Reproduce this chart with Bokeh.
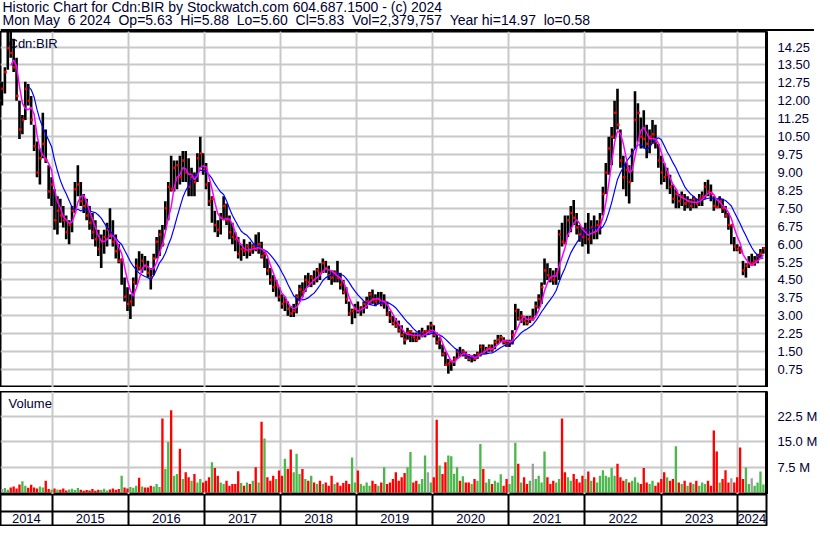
import pandas as pd
from bokeh.plotting import figure
from bokeh.layouts import column
from bokeh.models import (Range1d, FixedTicker, PrintfTickFormatter, Grid, Span,
                          Label, ColumnDataSource)
from bokeh.embed import file_html
from bokeh.resources import INLINE
from bokeh.core.properties import value

# ---------------- data (bi-weekly bars) ----------------
start_date = "2014-05-05"
period_days = 14
view_start = "2014-04-28"
view_end = "2024-05-21"

high = [
    12.8, 13.4, 14.9, 14.97, 14.6, 13.8, 12.0, 11.4, 12.8, 12.7,
    12.2, 11.0, 10.3, 10.0, 11.5, 10.8, 9.3, 8.8, 8.3, 8.0,
    7.9, 7.6, 7.2, 7.0, 7.6, 8.6, 9.3, 8.6, 8.1, 7.9,
    7.6, 7.3, 7.0, 6.6, 6.4, 6.6, 6.9, 7.5, 7.0, 6.4,
    6.0, 5.4, 4.6, 4.2, 3.9, 4.6, 5.4, 5.7, 5.6, 5.5,
    5.3, 5.0, 5.6, 6.3, 6.6, 6.8, 7.8, 8.6, 9.7, 9.5,
    9.5, 9.7, 9.9, 9.9, 9.6, 9.2, 9.0, 9.8, 10.5, 9.8,
    9.4, 8.6, 8.0, 7.4, 7.0, 7.3, 8.0, 7.7, 7.2, 6.9,
    6.5, 6.3, 6.0, 6.2, 6.0, 6.1, 6.0, 6.4, 6.5, 6.1,
    5.7, 5.4, 5.0, 4.7, 4.5, 4.2, 3.9, 3.8, 3.6, 3.4,
    3.5, 3.9, 4.3, 4.4, 4.7, 4.8, 4.7, 4.9, 5.0, 5.2,
    5.4, 5.3, 5.1, 4.9, 4.9, 5.3, 4.8, 4.5, 4.2, 3.6,
    3.3, 3.5, 3.6, 3.4, 3.6, 3.8, 4.0, 4.1, 3.9, 4.0,
    4.0, 3.9, 3.6, 3.2, 3.0, 2.9, 2.8, 2.6, 2.3, 2.5,
    2.4, 2.3, 2.3, 2.4, 2.5, 2.4, 2.6, 2.75, 2.6, 2.3,
    2.1, 1.8, 1.5, 1.2, 1.1, 1.3, 1.6, 1.7, 1.6, 1.5,
    1.4, 1.35, 1.4, 1.5, 1.8, 1.8, 1.7, 1.8, 1.8, 2.0,
    2.2, 2.2, 2.1, 2.0, 2.0, 2.4, 3.5, 3.3, 3.2, 3.0,
    3.0, 3.0, 3.3, 3.6, 3.9, 4.4, 5.4, 5.2, 5.0, 4.9,
    5.0, 6.6, 6.9, 7.2, 7.2, 7.6, 7.85, 7.3, 6.8, 6.7,
    6.9, 7.3, 7.0, 7.2, 7.0, 7.3, 8.4, 9.4, 10.5, 10.9,
    12.0, 12.5, 10.8, 9.7, 9.4, 9.3, 10.0, 12.4, 11.9, 11.3,
    11.6, 11.0, 10.8, 11.2, 11.0, 10.2, 9.7, 9.4, 9.2, 8.9,
    8.5, 8.3, 8.1, 8.2, 8.1, 8.0, 7.9, 8.0, 7.9, 8.1,
    8.2, 8.6, 8.7, 8.5, 8.0, 7.9, 8.0, 7.9, 7.6, 7.3,
    6.8, 6.3, 6.0, 5.9, 5.3, 5.2, 5.5, 5.6, 5.5, 5.6,
    5.8, 5.88]

low = [
    11.8, 12.3, 13.3, 13.8, 13.2, 12.0, 10.4, 10.6, 11.2, 11.8,
    11.0, 9.9, 8.8, 8.5, 9.6, 9.4, 7.9, 7.6, 6.6, 6.4,
    6.9, 6.7, 6.2, 6.0, 6.5, 7.3, 8.0, 7.6, 7.3, 7.0,
    6.6, 6.2, 5.9, 5.5, 5.0, 5.6, 5.9, 6.2, 5.9, 5.4,
    5.2, 4.3, 3.6, 3.2, 2.87, 3.4, 4.3, 4.9, 4.8, 4.9,
    4.6, 4.1, 4.7, 5.4, 5.5, 5.9, 6.6, 7.0, 8.2, 8.2,
    8.3, 8.5, 8.6, 8.6, 8.0, 8.0, 8.0, 8.6, 9.2, 8.9,
    8.3, 7.6, 6.9, 6.5, 6.3, 6.4, 7.0, 6.8, 6.2, 6.0,
    5.7, 5.4, 5.3, 5.5, 5.4, 5.5, 5.6, 5.7, 5.6, 5.4,
    5.0, 4.7, 4.3, 4.0, 3.8, 3.6, 3.3, 3.2, 3.0, 2.95,
    2.95, 3.1, 3.6, 3.8, 4.0, 4.2, 4.2, 4.3, 4.4, 4.5,
    4.8, 4.8, 4.5, 4.3, 4.4, 4.4, 4.1, 3.9, 3.5, 3.0,
    2.65, 2.9, 3.1, 3.0, 3.1, 3.3, 3.5, 3.5, 3.4, 3.5,
    3.4, 3.3, 3.0, 2.7, 2.6, 2.5, 2.3, 2.1, 1.8, 2.0,
    1.9, 1.9, 1.9, 2.0, 2.1, 2.1, 2.2, 2.3, 2.1, 1.8,
    1.6, 1.3, 0.9, 0.58, 0.7, 0.9, 1.2, 1.3, 1.3, 1.2,
    1.1, 1.05, 1.1, 1.2, 1.3, 1.4, 1.4, 1.5, 1.5, 1.6,
    1.8, 1.9, 1.8, 1.7, 1.7, 1.8, 2.4, 2.8, 2.7, 2.6,
    2.6, 2.7, 2.8, 3.0, 3.3, 3.5, 4.3, 4.5, 4.4, 4.3,
    4.3, 4.5, 5.9, 6.0, 6.3, 6.5, 6.8, 6.4, 6.1, 5.9,
    6.0, 5.6, 6.0, 6.2, 6.2, 6.4, 7.2, 8.1, 8.9, 9.3,
    10.4, 10.8, 9.2, 8.3, 8.0, 7.7, 8.6, 10.0, 10.3, 10.0,
    10.0, 9.6, 9.8, 10.2, 10.0, 9.2, 8.5, 8.6, 8.3, 8.1,
    7.7, 7.5, 7.5, 7.6, 7.4, 7.5, 7.4, 7.5, 7.5, 7.6,
    7.6, 7.9, 8.0, 7.8, 7.4, 7.5, 7.5, 7.3, 7.1, 6.6,
    6.0, 5.7, 5.7, 5.6, 4.7, 4.6, 5.0, 5.1, 5.1, 5.2,
    5.4, 5.60]

close = [
    12.5, 13.2, 14.2, 14.0, 13.4, 12.2, 10.8, 11.2, 12.5, 12.0,
    11.2, 10.1, 9.0, 9.6, 10.2, 9.5, 8.2, 8.5, 7.0, 7.4,
    7.2, 7.0, 6.5, 6.8, 7.4, 8.3, 8.5, 7.8, 7.6, 7.2,
    6.9, 6.5, 6.2, 5.8, 6.1, 6.3, 6.6, 6.4, 6.1, 5.7,
    5.3, 5.35, 3.8, 3.5, 3.6, 4.4, 5.1, 5.0, 5.3, 5.1,
    4.8, 4.6, 5.4, 6.1, 6.4, 6.0, 7.5, 8.4, 8.3, 9.2,
    9.3, 8.8, 9.5, 9.0, 8.4, 8.8, 8.6, 9.6, 9.8, 9.1,
    8.5, 7.8, 7.9, 6.8, 6.6, 7.1, 7.6, 7.0, 6.5, 6.3,
    6.2, 5.6, 5.8, 5.7, 5.9, 5.7, 5.9, 5.8, 6.0, 5.5,
    5.6, 4.9, 4.5, 4.2, 4.3, 3.8, 3.5, 3.6, 3.3, 3.1,
    3.2, 3.8, 4.1, 4.0, 4.5, 4.4, 4.6, 4.5, 4.9, 4.8,
    5.2, 5.0, 4.7, 4.6, 4.8, 4.6, 4.3, 4.0, 3.7, 3.1,
    3.2, 3.3, 3.2, 3.3, 3.5, 3.6, 3.9, 3.7, 3.6, 3.7,
    3.5, 3.6, 3.1, 2.9, 2.7, 2.6, 2.4, 2.2, 2.0, 2.3,
    2.35, 2.1, 2.0, 2.2, 2.3, 2.35, 2.35, 2.6, 2.2, 1.9,
    2.0, 1.4, 0.95, 1.0, 1.08, 1.2, 1.5, 1.4, 1.5, 1.3,
    1.2, 1.3, 1.2, 1.4, 1.7, 1.5, 1.6, 1.7, 1.6, 1.9,
    2.0, 2.1, 1.9, 1.8, 1.9, 2.2, 3.2, 2.9, 3.0, 2.8,
    2.7, 2.9, 2.9, 3.4, 3.7, 4.2, 4.9, 4.7, 4.6, 4.5,
    4.8, 6.4, 6.1, 6.05, 7.0, 7.3, 7.1, 6.7, 6.4, 6.3,
    6.6, 6.2, 6.7, 6.5, 6.8, 7.0, 8.1, 9.0, 10.0, 10.5,
    11.5, 11.0, 9.5, 8.8, 9.1, 8.6, 9.8, 11.2, 11.5, 10.5,
    10.4, 10.2, 10.5, 10.6, 10.3, 9.5, 9.0, 8.8, 8.9, 8.4,
    7.9, 8.1, 7.8, 8.0, 7.7, 7.8, 7.6, 7.9, 7.7, 7.9,
    8.0, 8.4, 8.2, 8.1, 7.6, 7.55, 7.8, 7.5, 7.2, 6.8,
    6.8, 5.9, 5.8, 5.7, 4.9, 5.1, 5.2, 5.2, 5.3, 5.5,
    5.6, 5.83]

volume_m = [
    1.0, 1.3, 0.8, 1.5, 1.8, 1.2, 2.4, 3.3, 2.0, 1.4,
    2.3, 1.5, 1.2, 1.8, 1.5, 3.5, 1.0, 0.8, 1.2, 0.9,
    0.8, 1.2, 0.6, 0.9, 1.1, 0.7, 1.3, 0.8, 0.5, 0.7,
    0.6, 1.0, 0.5, 0.8, 0.7, 1.1, 0.6, 0.9, 1.2, 0.8,
    1.0, 5.0, 1.5, 1.2, 1.6, 1.4, 2.0, 4.4, 1.8, 1.5,
    1.5, 2.0, 1.8, 2.5, 1.6, 22.0, 7.0, 15.0, 24.4, 5.0,
    5.5, 13.0, 4.0, 6.0, 4.5, 3.5, 5.5, 3.0, 4.0, 3.0,
    3.5, 4.5, 9.0, 7.3, 5.0, 3.0, 2.5, 3.5, 2.0, 2.5,
    2.5, 6.3, 2.8, 2.0, 3.0, 2.5, 3.5, 7.5, 3.0, 21.0,
    16.0, 4.5, 3.5, 5.0, 4.0, 6.5, 5.0, 10.0, 7.0, 12.8,
    6.0, 11.5, 5.5, 7.0, 4.0, 3.5, 5.0, 3.0, 2.5, 3.5,
    2.5, 3.0, 2.0, 5.0, 2.5, 3.0, 2.0, 2.8, 3.5, 2.5,
    10.4, 3.0, 6.5, 2.5, 2.0, 3.0, 2.0, 3.5, 2.5, 2.0,
    3.0, 7.5, 2.5, 3.0, 4.0, 6.0, 3.5, 4.5, 5.8, 7.5,
    12.0, 3.0, 3.5, 2.5, 4.0, 11.0, 6.0, 3.0, 4.5, 21.6,
    8.0, 5.5, 9.0, 11.0, 10.8, 5.6, 7.5, 3.5, 4.8, 3.0,
    3.0, 2.5, 4.0, 3.5, 14.4, 7.0, 3.0, 4.0, 2.5, 3.5,
    3.0, 5.4, 2.0, 4.0, 2.5, 5.0, 14.8, 8.5, 3.0, 4.5,
    2.5, 3.5, 8.5, 4.0, 5.0, 3.0, 12.2, 4.5, 2.5, 3.5,
    3.0, 4.0, 22.0, 6.0, 4.5, 3.5, 5.5, 4.0, 3.0, 5.0,
    4.0, 6.2, 3.5, 4.5, 3.0, 5.0, 6.6, 5.0, 4.5, 7.3,
    5.0, 8.5, 4.5, 3.5, 4.0, 3.0, 3.5, 4.5, 3.0, 2.5,
    7.3, 3.0, 2.5, 3.5, 2.0, 3.0, 4.0, 6.0, 4.5, 3.5,
    4.0, 13.7, 3.0, 2.5, 3.5, 2.0, 3.0, 2.5, 3.5, 2.0,
    3.0, 2.5, 3.5, 2.0, 18.4, 12.2, 3.0, 4.0, 6.6, 3.0,
    4.2, 3.0, 4.5, 13.4, 4.0, 7.4, 2.5, 4.2, 2.0, 3.0,
    6.2, 2.4]

price_ticks = [0.75, 1.50, 2.25, 3.00, 3.75, 4.50, 5.25, 6.00, 6.75, 7.50,
               8.25, 9.00, 9.75, 10.50, 11.25, 12.00, 12.75, 13.50, 14.25]
volume_ticks = [7.5, 15.0, 22.5]
years = [2014, 2015, 2016, 2017, 2018, 2019, 2020, 2021, 2022, 2023, 2024]

NB = "\u00a0"
title_line1 = "Historic Chart for Cdn:BIR by Stockwatch.com 604.687.1500 - (c) 2024"
title_line2 = (f"Mon May {NB}6 2024 {NB}Op=5.63 {NB}Hi=5.88 {NB}Lo=5.60 {NB}Cl=5.83 {NB}"
               f"Vol=2,379,757 {NB}Year hi=14.97 {NB}lo=0.58")
symbol = "Cdn:BIR"
ma_short, ma_long = 4, 10

n = len(close)
assert len(high) == n and len(low) == n and len(volume_m) == n

# ---------------- derived ----------------
FONT = "Liberation Sans"
TXT = "#000030"
GRID = "#c8c8c8"


def dec_year(ts):
    y0 = pd.Timestamp(year=ts.year, month=1, day=1)
    y1 = pd.Timestamp(year=ts.year + 1, month=1, day=1)
    return ts.year + (ts - y0) / (y1 - y0)


dates = pd.date_range(start_date, periods=n, freq=f"{period_days}D")
xs = [dec_year(d) for d in dates]
x0 = dec_year(pd.Timestamp(view_start))
x1 = dec_year(pd.Timestamp(view_end))
bar_step = period_days / 365.25

cs = pd.Series(close)
ma_s = cs.rolling(ma_short).mean()
ma_l = cs.rolling(ma_long).mean()
colors = []
for i in range(n):
    if i == 0 or close[i] == close[i - 1]:
        colors.append("#a0a0a0")
    elif close[i] > close[i - 1]:
        colors.append("#4cb84c")
    else:
        colors.append("#ff0000")

src = ColumnDataSource(dict(x=xs, high=high, low=low, close=close,
                            xc=[v + bar_step * 0.25 for v in xs],
                            vol=volume_m, color=colors,
                            mas=ma_s.tolist(), mal=ma_l.tolist()))

xr = Range1d(x0, x1)
year_bounds = [y for y in years if x0 < y < x1]

FW = 766
RB = 48


def style_common(f):
    f.outline_line_color = "black"
    f.background_fill_color = "white"
    f.border_fill_color = "white"


def style_axis(ax):
    ax.major_label_text_font = FONT
    ax.major_label_text_font_size = "13px"
    ax.major_label_text_color = TXT
    ax.major_tick_line_color = None
    ax.minor_tick_line_color = None
    ax.axis_line_color = "black"
    ax.axis_line_width = 3
    ax.major_label_standoff = 5


# ---------------- header ----------------
header = figure(frame_width=FW + RB, frame_height=31, x_range=(0, 1), y_range=(0, 31),
                output_backend="svg", toolbar_location=None, min_border=0,
                x_axis_location=None, y_axis_location=None)
header.outline_line_color = None
header.xgrid.visible = False
header.ygrid.visible = False
header.add_layout(Label(x=2, y=17, x_units="screen", y_units="screen", text=title_line1,
                        text_font=FONT, text_font_size="14px", text_color=TXT))
header.add_layout(Label(x=2, y=4, x_units="screen", y_units="screen", text=title_line2,
                        text_font=FONT, text_font_size="14px", text_color=TXT))
header.add_layout(Span(location=1.2, dimension="width", line_color="black", line_width=2.5))

# ---------------- price panel ----------------
price = figure(frame_width=FW, frame_height=356, x_range=xr, y_range=Range1d(0.0, 14.9),
               output_backend="svg", toolbar_location=None, min_border=0,
               min_border_right=RB, x_axis_location=None, y_axis_location="right")
style_common(price)
price.outline_line_width = 2
price.yaxis.ticker = FixedTicker(ticks=price_ticks)
price.yaxis.formatter = PrintfTickFormatter(format="%.2f")
style_axis(price.yaxis[0])
price.ygrid.ticker = FixedTicker(ticks=price_ticks)
price.ygrid.grid_line_color = GRID
price.ygrid.grid_line_width = 2
price.add_layout(Grid(dimension=0, ticker=FixedTicker(ticks=year_bounds),
                      grid_line_color=GRID, grid_line_width=2))
price.segment(x0="x", y0="low", x1="x", y1="high", source=src,
              line_color="black", line_width=2.6)
price.scatter(x="xc", y="close", source=src, marker="square", size=2.5,
              fill_color="#ff0000", line_color=None)
price.line(x="x", y="mal", source=src, line_color="#0000ff", line_width=1.2)
price.line(x="x", y="mas", source=src, line_color="#ff00ff", line_width=1.5)
price.add_layout(Label(x=8, y=352, x_units="screen", y_units="screen", text=symbol,
                       text_font=FONT, text_font_size="13px", text_color=TXT,
                       text_baseline="top"))

# ---------------- separator (double rule) ----------------
sep = figure(frame_width=FW + RB, frame_height=4, x_range=(0, 1), y_range=(0, 1),
             output_backend="svg", toolbar_location=None, min_border=0,
             x_axis_location=None, y_axis_location=None)
sep.outline_line_color = "black"
sep.outline_line_width = 1
sep.xgrid.visible = False
sep.ygrid.visible = False

# ---------------- volume panel ----------------
vol = figure(frame_width=FW, frame_height=103, x_range=xr, y_range=Range1d(-0.6, 30.0),
             output_backend="svg", toolbar_location=None, min_border=0,
             min_border_right=RB, x_axis_location=None, y_axis_location="right")
style_common(vol)
vol.outline_line_width = 2
vol.yaxis.ticker = FixedTicker(ticks=volume_ticks)
vol.yaxis.formatter = PrintfTickFormatter(format="%.1f M")
style_axis(vol.yaxis[0])
vol.ygrid.ticker = FixedTicker(ticks=volume_ticks)
vol.ygrid.grid_line_color = GRID
vol.ygrid.grid_line_width = 2
vol.add_layout(Grid(dimension=0, ticker=FixedTicker(ticks=year_bounds),
                    grid_line_color=GRID, grid_line_width=2))
vol.vbar(x="x", top="vol", bottom=0, width=bar_step * 0.8, source=src,
         fill_color="color", line_color=None)
vol.add_layout(Label(x=8, y=99, x_units="screen", y_units="screen", text="Volume",
                     text_font=FONT, text_font_size="13px", text_color=TXT,
                     text_baseline="top"))

# ---------------- date rows ----------------
date = figure(frame_width=FW, frame_height=32, x_range=xr, y_range=Range1d(0, 2),
              output_backend="svg", toolbar_location=None, min_border=0,
              min_border_right=RB, x_axis_location=None, y_axis_location=None)
style_common(date)
date.outline_line_width = 2
date.xgrid.visible = False
date.ygrid.visible = False
date.add_layout(Grid(dimension=0, ticker=FixedTicker(ticks=year_bounds),
                     grid_line_color="black", grid_line_width=2))
date.add_layout(Span(location=0.94, dimension="width", line_color="black", line_width=2))
lab_x = [(max(y, x0) + min(y + 1, x1)) / 2 for y in years]
date.text(x=lab_x, y=[0.47] * len(years), text=[str(y) for y in years],
          text_font=value(FONT), text_font_size=value("13px"), text_color=TXT,
          text_align="center", text_baseline="middle")

layout = column(header, price, sep, vol, date, spacing=0)

open("out.html", "w").write(file_html(layout, INLINE))
